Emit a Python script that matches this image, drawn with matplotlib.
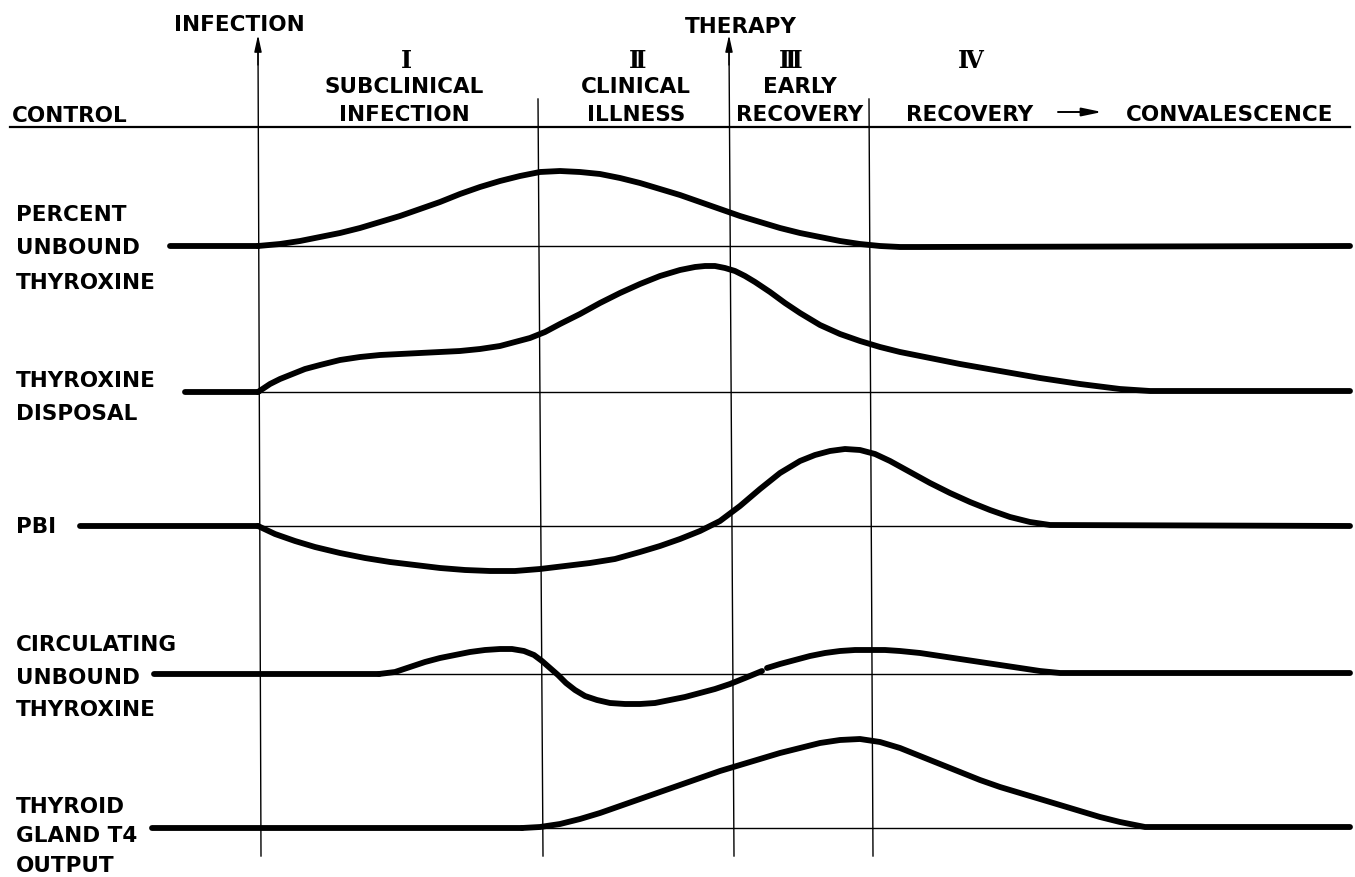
import matplotlib
matplotlib.use("Agg")
import matplotlib.pyplot as plt

# ---- layout frame (drawing units follow the original sheet, y grows downward) ----
W, H = 1355, 878
X_RIGHT = 1350
HEADER_Y = 128

# phase boundaries (x at top, x at bottom)
infection_x = (258, 261)
phase2_x = (538, 543)
therapy_x = (729, 734)
phase4_x = (869, 873)
arrow_top_y = 36
phase_top_y = 100
lines_bottom_y = 857

# ---- rows: baseline level, start of thick control line, where the curve leaves ----
row_baseline = [247, 393, 527, 675, 829]
row_start = [170, 185, 80, 154, 152]
curve_start = [258, 258, 258, 379, 522]

# curves (x, y)
pct_x = [258, 280, 300, 320, 340, 360, 380, 400, 420, 440, 460, 480, 500, 520, 540, 560, 580, 600,
         620, 640, 660, 680, 700, 720, 740, 760, 780, 800, 820, 840, 860, 880, 900, 920, X_RIGHT]
pct_y = [247, 245, 242, 238, 234, 229, 223, 217, 210, 203, 195, 188, 182, 177, 173, 172, 173, 175,
         179, 184, 190, 196, 203, 210, 217, 223, 229, 234, 238, 242, 245, 247, 248, 248, 247]

disp_x = [258, 270, 280, 290, 305, 320, 340, 360, 380, 400, 420, 440, 460, 480, 500, 515, 530, 545,
          560, 580, 600, 620, 640, 660, 680, 695, 705, 715, 725, 735, 745, 755, 770, 785, 800, 820,
          840, 860, 880, 900, 930, 960, 1000, 1040, 1080, 1120, 1150, X_RIGHT]
disp_y = [393, 385, 380, 376, 370, 366, 361, 358, 356, 355, 354, 353, 352, 350, 347, 343, 339, 333,
          325, 315, 304, 294, 285, 277, 271, 268, 267, 267, 269, 272, 277, 283, 293, 304, 314, 326,
          335, 342, 348, 353, 359, 365, 372, 379, 385, 390, 392, 392]

pbi_x = [258, 275, 295, 315, 340, 365, 390, 415, 440, 465, 490, 515, 540, 565, 590, 615, 640, 660,
         680, 700, 720, 740, 760, 780, 800, 815, 830, 845, 860, 875, 890, 910, 930, 950, 970, 990,
         1010, 1030, 1050, X_RIGHT]
pbi_y = [527, 535, 542, 548, 554, 559, 563, 566, 569, 571, 572, 572, 570, 567, 564, 560, 553, 547,
         540, 532, 522, 507, 490, 474, 462, 456, 452, 450, 451, 455, 462, 473, 484, 494, 503, 511,
         518, 523, 526, 527]

# circulating unbound thyroxine is drawn in two strokes with a small break
circ_a_x = [379, 395, 410, 425, 440, 455, 470, 485, 500, 512, 524, 534, 542, 550, 558, 566, 575,
            585, 597, 610, 625, 640, 655, 670, 685, 700, 715, 730, 745, 762]
circ_a_y = [675, 673, 668, 663, 659, 656, 653, 651, 650, 650, 652, 656, 662, 669, 676, 684, 691,
            697, 701, 704, 705, 705, 704, 701, 698, 694, 690, 685, 679, 672]
circ_b_x = [767, 780, 795, 810, 825, 840, 855, 870, 885, 900, 920, 940, 960, 980, 1000, 1020, 1040,
            1060, X_RIGHT]
circ_b_y = [669, 665, 661, 657, 654, 652, 651, 651, 651, 652, 654, 657, 660, 663, 666, 669, 672,
            674, 674]

thy_x = [522, 540, 560, 580, 600, 620, 640, 660, 680, 700, 720, 740, 760, 780, 800, 820, 840, 860,
         880, 900, 920, 940, 960, 980, 1000, 1020, 1040, 1060, 1080, 1100, 1120, 1145, X_RIGHT]
thy_y = [829, 828, 825, 820, 814, 807, 800, 793, 786, 779, 772, 766, 760, 754, 749, 744, 741, 740,
         743, 749, 757, 765, 773, 781, 788, 794, 800, 806, 812, 818, 823, 828, 828]

# ---- text ----
row_labels = [
    (["PERCENT", "UNBOUND", "THYROXINE"], [215, 248, 283]),
    (["THYROXINE", "DISPOSAL"], [381, 414]),
    (["PBI"], [527]),
    (["CIRCULATING", "UNBOUND", "THYROXINE"], [645, 678, 710]),
    (["THYROID", "GLAND T4", "OUTPUT"], [807, 836, 866]),
]
phase_numerals = ["Ⅰ", "Ⅱ", "Ⅲ", "Ⅳ"]
numeral_x = [406, 638, 791, 971]
phase_names = [("SUBCLINICAL", "INFECTION"), ("CLINICAL", "ILLNESS"), ("EARLY", "RECOVERY")]
phase_name_x = [404, 636, 800]

THICK = 4.2
THIN = 1.0
FS = 15.5
FONT = dict(family=["DejaVu Sans"], fontweight="bold", color="black")

fig = plt.figure(figsize=(W / 100, H / 100), dpi=100)
ax = fig.add_axes([0, 0, 1, 1])
ax.set_xlim(0, W)
ax.set_ylim(H, 0)
ax.axis("off")

# header rule
ax.plot([10, X_RIGHT], [HEADER_Y, HEADER_Y], color="black", lw=1.6)

# phase boundaries
for xs in (phase2_x, phase4_x):
    ax.plot([xs[0], xs[1]], [phase_top_y, lines_bottom_y], color="black", lw=THIN)
for xs in (infection_x, therapy_x):
    ax.plot([xs[0], xs[1]], [arrow_top_y + 10, lines_bottom_y], color="black", lw=THIN)
    ax.annotate("", xy=(xs[0], arrow_top_y), xytext=(xs[0], arrow_top_y + 30),
                arrowprops=dict(arrowstyle="-|>,head_length=1.0,head_width=0.22",
                                color="black", lw=THIN, shrinkA=0, shrinkB=0))

# baselines: thin reference line plus thick control segment
for base, start, cstart in zip(row_baseline, row_start, curve_start):
    ax.plot([start, X_RIGHT], [base, base], color="black", lw=THIN)
    ax.plot([start, cstart], [base, base], color="black", lw=THICK, solid_capstyle="round")

for xs, ys in [(pct_x, pct_y), (disp_x, disp_y), (pbi_x, pbi_y),
               (circ_a_x, circ_a_y), (circ_b_x, circ_b_y), (thy_x, thy_y)]:
    ax.plot(xs, ys, color="black", lw=THICK, solid_capstyle="round", solid_joinstyle="round")

# header text
ax.text(239, 25, "INFECTION", ha="center", va="center", fontsize=FS, **FONT)
ax.text(741, 27, "THERAPY", ha="center", va="center", fontsize=FS, **FONT)
ax.text(12, 116, "CONTROL", ha="left", va="center", fontsize=FS, **FONT)
for num, x in zip(phase_numerals, numeral_x):
    ax.text(x, 61, num, ha="center", va="center", fontsize=17,
            family=["DejaVu Serif"], fontweight="bold", color="black")
for (top, bottom), x in zip(phase_names, phase_name_x):
    ax.text(x, 87, top, ha="center", va="center", fontsize=FS, **FONT)
    ax.text(x, 115, bottom, ha="center", va="center", fontsize=FS, **FONT)
ax.text(970, 115, "RECOVERY", ha="center", va="center", fontsize=FS, **FONT)
ax.annotate("", xy=(1102, 113), xytext=(1058, 113),
            arrowprops=dict(arrowstyle="-|>,head_length=1.2,head_width=0.25",
                            color="black", lw=1.4, shrinkA=0, shrinkB=0))
ax.text(1230, 115, "CONVALESCENCE", ha="center", va="center", fontsize=FS, **FONT)

# row labels
for lines, ys in row_labels:
    for txt, y in zip(lines, ys):
        ax.text(16, y, txt, ha="left", va="center", fontsize=FS, **FONT)

fig.savefig("out.png", dpi=100, facecolor="white")
